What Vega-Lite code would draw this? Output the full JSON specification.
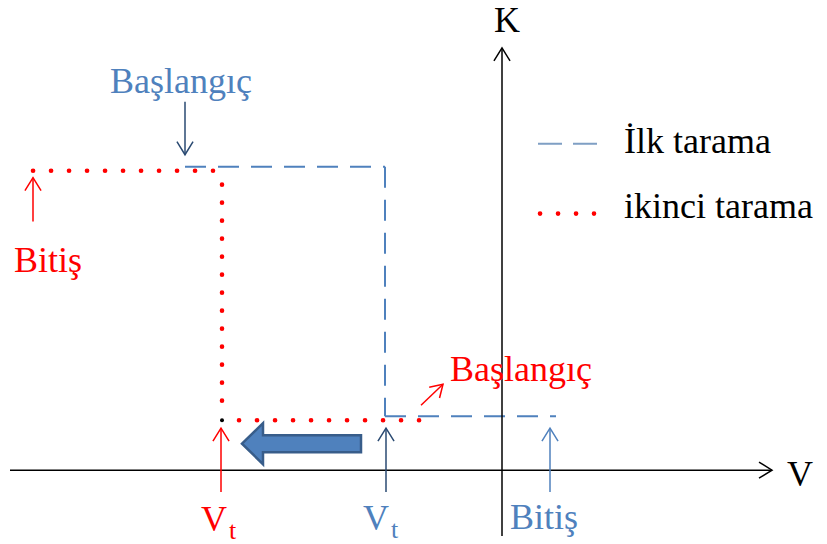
{
  "$schema": "https://vega.github.io/schema/vega-lite/v6.json",
  "width": 827,
  "height": 544,
  "autosize": {"type": "fit", "contains": "padding"},
  "padding": 0,
  "background": "white",
  "config": {"view": {"stroke": null}, "text": {"font": "Liberation Serif"}},
  "datasets": {
    "arrows": [
      {"v": -492, "k": 0, "v2": 270, "k2": 0, "dir": "right", "role": "neutral"},
      {"v": 0, "k": -66, "v2": 0, "k2": 423, "dir": "up", "role": "neutral"},
      {"v": -317, "k": 369, "v2": -317, "k2": 316, "dir": "down", "role": "marker"},
      {"v": -469, "k": 249, "v2": -469, "k2": 293, "dir": "up", "role": "second"},
      {"v": -281, "k": -22, "v2": -281, "k2": 42, "dir": "up", "role": "second"},
      {"v": -116, "k": -22, "v2": -116, "k2": 42, "dir": "up", "role": "marker"},
      {"v": 48, "k": -22, "v2": 48, "k2": 42, "dir": "up", "role": "first"},
      {"v": -81, "k": 65, "v2": -59, "k2": 86, "dir": "upright", "role": "second"}
    ],
    "first": [
      {"seg": "a", "i": 0, "v": -317, "k": 304},
      {"seg": "a", "i": 1, "v": -117, "k": 304},
      {"seg": "b", "i": 0, "v": -117, "k": 304},
      {"seg": "b", "i": 1, "v": -117, "k": 54},
      {"seg": "c", "i": 0, "v": -117, "k": 54},
      {"seg": "c", "i": 1, "v": 54, "k": 54}
    ],
    "second": [
      {"seg": "a", "i": 0, "v": -469, "k": 300},
      {"seg": "a", "i": 1, "v": -289, "k": 300},
      {"seg": "b", "i": 0, "v": -280, "k": 286},
      {"seg": "b", "i": 1, "v": -280, "k": 69},
      {"seg": "c", "i": 0, "v": -263, "k": 50},
      {"seg": "c", "i": 1, "v": -82, "k": 50}
    ],
    "legendFirst": [
      {"i": 0, "v": 36, "k": 327},
      {"i": 1, "v": 95, "k": 327}
    ],
    "legendSecond": [
      {"i": 0, "v": 38, "k": 257},
      {"i": 1, "v": 92, "k": 257}
    ],
    "vtPoint": [{"v": -280, "k": 50}],
    "bigArrow": [{"v": -200.5, "k": 26.5}],
    "centerText": [
      {"t": "K", "v": 5, "k": 439, "role": "neutral"},
      {"t": "V", "v": 298, "k": -16, "role": "neutral"},
      {"t": "Başlangıç", "v": -321, "k": 378, "role": "first"},
      {"t": "Bitiş", "v": -454, "k": 198, "role": "second"},
      {"t": "Başlangıç", "v": 19, "k": 89, "role": "second"},
      {"t": "V", "v": -288, "k": -61, "role": "second"},
      {"t": "V", "v": -126, "k": -60, "role": "first"},
      {"t": "Bitiş", "v": 42, "k": -59, "role": "first"}
    ],
    "leftText": [
      {"t": "t", "v": -273, "k": -69, "role": "second", "kind": "sub"},
      {"t": "t", "v": -111, "k": -68, "role": "first", "kind": "sub"},
      {"t": "İlk tarama", "v": 122, "k": 318, "role": "neutral", "kind": "normal"},
      {"t": "ikinci tarama", "v": 122, "k": 253, "role": "neutral", "kind": "normal"}
    ]
  },
  "layer": [
    {
      "data": {"name": "first"},
      "mark": {"type": "line", "stroke": "#4F81BD", "strokeWidth": 2, "strokeDash": [21, 12]},
      "encoding": {
        "x": {"field": "v", "type": "quantitative", "scale": {"domain": [-502, 325], "nice": false, "zero": false}, "axis": null},
        "y": {"field": "k", "type": "quantitative", "scale": {"domain": [-73, 471], "nice": false, "zero": false}, "axis": null},
        "detail": {"field": "seg"},
        "order": {"field": "i"}
      }
    },
    {
      "data": {"name": "legendFirst"},
      "mark": {"type": "line", "stroke": "#7F9FC4", "strokeWidth": 2, "strokeDash": [24, 11]},
      "encoding": {
        "x": {"field": "v", "type": "quantitative"},
        "y": {"field": "k", "type": "quantitative"},
        "order": {"field": "i"}
      }
    },
    {
      "data": {"name": "second"},
      "mark": {"type": "line", "stroke": "#FF0000", "strokeWidth": 4.6, "strokeCap": "round", "strokeDash": [0.1, 17.9]},
      "encoding": {
        "x": {"field": "v", "type": "quantitative"},
        "y": {"field": "k", "type": "quantitative"},
        "detail": {"field": "seg"},
        "order": {"field": "i"}
      }
    },
    {
      "data": {"name": "legendSecond"},
      "mark": {"type": "line", "stroke": "#FF0000", "strokeWidth": 4.6, "strokeCap": "round", "strokeDash": [0.1, 17.9]},
      "encoding": {
        "x": {"field": "v", "type": "quantitative"},
        "y": {"field": "k", "type": "quantitative"},
        "order": {"field": "i"}
      }
    },
    {
      "data": {"name": "vtPoint"},
      "mark": {"type": "point", "shape": "circle", "filled": true, "color": "#000000", "size": 16, "opacity": 1},
      "encoding": {
        "x": {"field": "v", "type": "quantitative"},
        "y": {"field": "k", "type": "quantitative"}
      }
    },
    {
      "data": {"name": "arrows"},
      "mark": {"type": "rule", "strokeWidth": 1.5},
      "encoding": {
        "x": {"field": "v", "type": "quantitative"},
        "y": {"field": "k", "type": "quantitative"},
        "x2": {"field": "v2"},
        "y2": {"field": "k2"},
        "color": {"field": "role", "type": "nominal", "scale": {"domain": ["neutral", "first", "second", "marker"], "range": ["#000000", "#4F81BD", "#FF0000", "#2A4A72"]}, "legend": null}
      }
    },
    {
      "data": {"name": "arrows"},
      "transform": [{"filter": "datum.dir === 'right'"}],
      "mark": {"type": "point", "shape": "M -1 -0.62 L 0 0 L -1 0.62", "filled": false, "size": 676, "strokeWidth": 1.5, "opacity": 1, "angle": 0},
      "encoding": {
        "x": {"field": "v2", "type": "quantitative"},
        "y": {"field": "k2", "type": "quantitative"},
        "color": {"field": "role", "type": "nominal", "legend": null}
      }
    },
    {
      "data": {"name": "arrows"},
      "transform": [{"filter": "datum.dir === 'up'"}],
      "mark": {"type": "point", "shape": "M -1 -0.62 L 0 0 L -1 0.62", "filled": false, "size": 676, "strokeWidth": 1.5, "opacity": 1, "angle": 270},
      "encoding": {
        "x": {"field": "v2", "type": "quantitative"},
        "y": {"field": "k2", "type": "quantitative"},
        "color": {"field": "role", "type": "nominal", "legend": null}
      }
    },
    {
      "data": {"name": "arrows"},
      "transform": [{"filter": "datum.dir === 'down'"}],
      "mark": {"type": "point", "shape": "M -1 -0.62 L 0 0 L -1 0.62", "filled": false, "size": 676, "strokeWidth": 1.5, "opacity": 1, "angle": 90},
      "encoding": {
        "x": {"field": "v2", "type": "quantitative"},
        "y": {"field": "k2", "type": "quantitative"},
        "color": {"field": "role", "type": "nominal", "legend": null}
      }
    },
    {
      "data": {"name": "arrows"},
      "transform": [{"filter": "datum.dir === 'upright'"}],
      "mark": {"type": "point", "shape": "M -1 -0.62 L 0 0 L -1 0.62", "filled": false, "size": 576, "strokeWidth": 1.5, "opacity": 1, "angle": 316},
      "encoding": {
        "x": {"field": "v2", "type": "quantitative"},
        "y": {"field": "k2", "type": "quantitative"},
        "color": {"field": "role", "type": "nominal", "legend": null}
      }
    },
    {
      "data": {"name": "bigArrow"},
      "mark": {"type": "point", "shape": "M -1 0 L -0.647 -0.345 L -0.647 -0.143 L 1 -0.143 L 1 0.143 L -0.647 0.143 L -0.647 0.345 Z", "filled": true, "fill": "#4F81BD", "stroke": "#385D8A", "strokeWidth": 2.5, "size": 14161, "opacity": 1},
      "encoding": {
        "x": {"field": "v", "type": "quantitative"},
        "y": {"field": "k", "type": "quantitative"}
      }
    },
    {
      "data": {"name": "centerText"},
      "mark": {"type": "text", "align": "center", "baseline": "alphabetic", "fontSize": 36},
      "encoding": {
        "x": {"field": "v", "type": "quantitative"},
        "y": {"field": "k", "type": "quantitative"},
        "text": {"field": "t"},
        "color": {"field": "role", "type": "nominal", "legend": null}
      }
    },
    {
      "data": {"name": "leftText"},
      "mark": {"type": "text", "align": "left", "baseline": "alphabetic"},
      "encoding": {
        "x": {"field": "v", "type": "quantitative"},
        "y": {"field": "k", "type": "quantitative"},
        "text": {"field": "t"},
        "size": {"field": "kind", "type": "nominal", "scale": {"domain": ["normal", "sub"], "range": [36, 26]}, "legend": null},
        "color": {"field": "role", "type": "nominal", "legend": null}
      }
    }
  ]
}
